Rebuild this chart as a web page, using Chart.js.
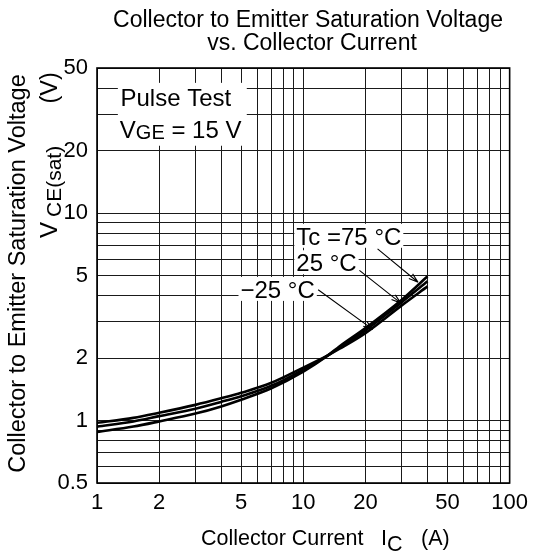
<!DOCTYPE html>
<html>
<head>
<meta charset="utf-8">
<script src="https://cdn.jsdelivr.net/npm/chart.js@4.4.1/dist/chart.umd.min.js"></script>
<style>
  body { margin: 0; background: #fff; }
  #wrap { width: 535px; height: 556px; position: relative; }
</style>
</head>
<body>
<div id="wrap"><canvas id="chart"></canvas></div>
<script>
// collector current (A)
const currents = [1, 1.5, 2, 3, 4, 5, 7, 10, 13, 15, 20, 30, 40];
// VCE(sat) (V) per case temperature
const vceMinus25 = [0.975, 1.03, 1.09, 1.19, 1.28, 1.36, 1.52, 1.80, 2.05, 2.22, 2.64, 3.59, 4.43];
const vce25 = [0.935, 0.99, 1.05, 1.14, 1.23, 1.31, 1.47, 1.76, 2.045, 2.25, 2.72, 3.72, 4.69];
const vce75 = [0.88, 0.935, 0.99, 1.08, 1.17, 1.26, 1.43, 1.72, 2.04, 2.28, 2.79, 3.82, 4.96];

const xGridValues = [1, 2, 3, 4, 5, 6, 7, 8, 9, 10, 20, 30, 40, 50, 60, 70, 80, 90, 100];
const xTickLabels = [1, 2, 5, 10, 20, 50, 100];
const yGridValues = [0.5, 0.6, 0.7, 0.8, 0.9, 1, 2, 3, 4, 5, 6, 7, 8, 9, 10, 20, 30, 40, 50];
const yTickLabels = [0.5, 1, 2, 5, 10, 20, 50];

const curveLabels = ['Tc =75 °C', '25 °C', '\u221225 °C'];
// label anchor [A, V] and arrow from/to [A, V]
const labelAt = [[9.25, 7.03], [9.25, 5.24], [4.96, 3.9]];
const arrowFrom = [[22.9, 6.72], [18.7, 5.29], [11.8, 4.27]];
const arrowTo = [[36.0, 4.64], [29.7, 3.68], [21.7, 2.75]];

const FONT = '"Liberation Sans", Arial, Helvetica, sans-serif';

const toPts = (ys) => currents.map((x, i) => ({ x: x, y: ys[i] }));

function font(size) { return size + 'px ' + FONT; }

function txt(ctx, s, x, y, size, align) {
  ctx.font = font(size);
  ctx.textAlign = align || 'left';
  ctx.textBaseline = 'alphabetic';
  ctx.fillText(s, x, y);
  return ctx.measureText(s).width;
}

function arrow(ctx, x1, y1, x2, y2) {
  ctx.beginPath();
  ctx.moveTo(x1, y1);
  ctx.lineTo(x2, y2);
  const a = Math.atan2(y2 - y1, x2 - x1);
  const len = 10, spread = 0.3;
  ctx.moveTo(x2, y2);
  ctx.lineTo(x2 - len * Math.cos(a - spread), y2 - len * Math.sin(a - spread));
  ctx.moveTo(x2, y2);
  ctx.lineTo(x2 - len * Math.cos(a + spread), y2 - len * Math.sin(a + spread));
  ctx.stroke();
}

const decor = {
  id: 'decor',
  beforeDraw(chart) {
    const ctx = chart.ctx;
    ctx.save();
    ctx.fillStyle = '#fff';
    ctx.fillRect(0, 0, chart.width, chart.height);
    ctx.restore();
  },
  afterDatasetsDraw(chart) {
    const ctx = chart.ctx;
    const xs = chart.scales.x, ys = chart.scales.y;
    const a = chart.chartArea;
    ctx.save();
    ctx.fillStyle = '#000';
    ctx.strokeStyle = '#000';

    // Pulse Test box
    const bx1 = xs.getPixelForValue(1.262), bx2 = xs.getPixelForValue(5.32);
    const by1 = ys.getPixelForValue(42.4), by2 = ys.getPixelForValue(21.1);
    ctx.fillStyle = '#fff';
    ctx.fillRect(bx1, by1, bx2 - bx1, by2 - by1);
    ctx.fillStyle = '#000';
    txt(ctx, 'Pulse Test', xs.getPixelForValue(1.30), ys.getPixelForValue(32.8), 24);
    let vx = xs.getPixelForValue(1.29);
    const vy = ys.getPixelForValue(22.9);
    vx += txt(ctx, 'V', vx, vy, 24);
    vx += txt(ctx, 'GE', vx, vy + 1, 20);
    txt(ctx, ' = 15 V', vx, vy, 24);

    // curve labels with white backing
    curveLabels.forEach((s, i) => {
      const lx = xs.getPixelForValue(labelAt[i][0]);
      const ly = ys.getPixelForValue(labelAt[i][1]);
      ctx.font = font(24);
      const w = ctx.measureText(s).width;
      ctx.fillStyle = '#fff';
      ctx.fillRect(lx - 2, ly - 21, w + 4, 24);
      ctx.fillStyle = '#000';
      txt(ctx, s, lx, ly, 24);
    });
    ctx.lineWidth = 1.1;
    curveLabels.forEach((s, i) => {
      arrow(ctx,
        xs.getPixelForValue(arrowFrom[i][0]), ys.getPixelForValue(arrowFrom[i][1]),
        xs.getPixelForValue(arrowTo[i][0]), ys.getPixelForValue(arrowTo[i][1]));
    });

    // frame
    ctx.lineWidth = 1.6;
    ctx.strokeRect(a.left, a.top, a.right - a.left, a.bottom - a.top);
    ctx.restore();
  },
  afterDraw(chart) {
    const ctx = chart.ctx;
    ctx.save();
    ctx.fillStyle = '#000';
    // chart title
    txt(ctx, 'Collector to Emitter Saturation Voltage', 308, 26.5, 23, 'center');
    txt(ctx, 'vs. Collector Current', 312, 50, 23, 'center');

    // x title
    txt(ctx, 'Collector Current', 201, 545, 21.5);
    txt(ctx, 'I', 381, 545, 21.5);
    txt(ctx, 'C', 387, 550.5, 21.5);
    txt(ctx, '(A)', 421, 545, 21.5);

    // y title (rotated)
    ctx.save();
    ctx.translate(25, 273.5);
    ctx.rotate(-Math.PI / 2);
    txt(ctx, 'Collector to Emitter Saturation Voltage', 0, 0, 23.5, 'center');
    ctx.restore();
    ctx.translate(56.5, 238);
    ctx.rotate(-Math.PI / 2);
    txt(ctx, 'V', 0, 0, 24);
    txt(ctx, 'CE(sat)', 21, 4, 21);
    txt(ctx, '(V)', 134.5, 0, 23.5);
    ctx.restore();
  }
};

new Chart(document.getElementById('chart'), {
  type: 'line',
  data: {
    datasets: [
      { label: '75 °C', data: toPts(vce75) },
      { label: '25 °C', data: toPts(vce25) },
      { label: '-25 °C', data: toPts(vceMinus25) }
    ].map(d => Object.assign(d, {
      borderColor: '#000',
      borderWidth: 2.6,
      pointRadius: 0,
      fill: false,
      cubicInterpolationMode: 'monotone'
    }))
  },
  options: {
    responsive: true,
    maintainAspectRatio: false,
    animation: false,
    layout: { padding: { top: 68, right: 22, left: 0, bottom: 0 } },
    plugins: { legend: { display: false }, tooltip: { enabled: false }, title: { display: false } },
    scales: {
      x: {
        type: 'logarithmic',
        min: 1,
        max: 100,
        afterFit(s) { s.height = 73; },
        afterBuildTicks(s) { s.ticks = xGridValues.map(v => ({ value: v })); },
        grid: { color: '#1a1a1a', lineWidth: 1, drawTicks: false },
        border: { display: false },
        ticks: {
          autoSkip: false,
          maxRotation: 0,
          padding: 7,
          color: '#000',
          font: { family: FONT, size: 22 },
          callback: (v) => xTickLabels.includes(v) ? String(v) : ''
        }
      },
      y: {
        type: 'logarithmic',
        min: 0.5,
        max: 50,
        afterFit(s) { s.width = 97; },
        afterBuildTicks(s) { s.ticks = yGridValues.map(v => ({ value: v })); },
        grid: { color: '#1a1a1a', lineWidth: 1, drawTicks: false },
        border: { display: false },
        ticks: {
          autoSkip: false,
          padding: 9,
          color: '#000',
          font: { family: FONT, size: 22 },
          callback: (v) => yTickLabels.includes(v) ? String(v) : ''
        }
      }
    }
  },
  plugins: [decor]
});
</script>
</body>
</html>
